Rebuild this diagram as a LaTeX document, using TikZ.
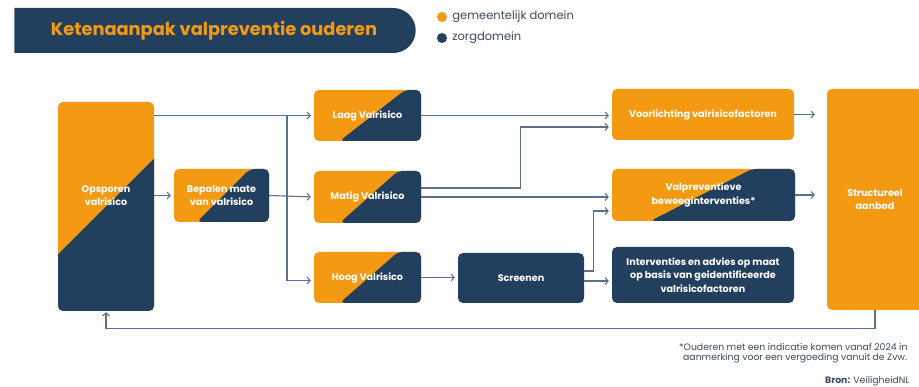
\documentclass[tikz,border=0pt]{standalone}
\usepackage{fontspec}
\setmainfont{Poppins}
\usetikzlibrary{calc, positioning, arrows.meta, shapes.misc}
\definecolor{vporange}{HTML}{F39A12}
\definecolor{vpnavy}{HTML}{22405E}
\definecolor{vpline}{HTML}{5B7189}
\definecolor{vptext}{HTML}{3B4A5C}
\tikzset{
  box/.style={rounded corners=5pt, text=white, inner sep=0pt, align=center,
    font=\fontsize{9.6}{13.5}\selectfont\bfseries},
  gem/.style={box, fill=vporange},
  zorg/.style={box, fill=vpnavy},
  split/.style 2 args={box, fill=vporange, path picture={
    \fill[vpnavy] ($(path picture bounding box.south west)!#1!(path picture bounding box.south east)$)
      -- ($(path picture bounding box.north west)!#2!(path picture bounding box.north east)$)
      -- ([xshift=300pt]$(path picture bounding box.north west)!#2!(path picture bounding box.north east)$)
      -- ([xshift=300pt]$(path picture bounding box.south west)!#1!(path picture bounding box.south east)$)
      -- cycle;}},
  arr/.style={draw=vpline, line width=1.1pt, -{Straight Barb[length=3pt,width=7pt]}, shorten >=3pt},
  legend/.style={text=vptext, font=\fontsize{11.5}{13}\selectfont, inner sep=0pt},
  note/.style={text=vptext, font=\fontsize{9.3}{10}\selectfont, inner sep=0pt, anchor=west},
}
\begin{document}
\begin{tikzpicture}[x=1pt, y=-1pt]
  \useasboundingbox[fill=white] (0,0) rectangle (919,387);
  % title and legend
  \node[rounded rectangle, rounded rectangle left arc=none, fill=vpnavy,
    minimum width=408pt, minimum height=45pt, text=vporange,
    font=\fontsize{17.8}{19}\selectfont\bfseries] (title) at (214,30.5) {Ketenaanpak valpreventie ouderen};
  \node[circle, fill=vporange, minimum size=10pt, inner sep=0pt] (dotgem) at (442,17) {};
  \node[legend, right=5pt of dotgem] {gemeentelijk domein};
  \node[circle, fill=vpnavy, minimum size=10pt, inner sep=0pt] (dotzorg) at (442,38) {};
  \node[legend, right=5pt of dotzorg] {zorgdomein};
  % boxes
  \node[split={-0.59}{1.59}, minimum width=96pt, minimum height=209pt,
    label={[box, yshift=11pt]center:Opsporen\\valrisico}] (ops) at (106,206.5) {};
  \node[split={0.24}{0.80}, minimum width=95pt, minimum height=53pt] (bep) at (221.5,195.5) {Bepalen mate\\van valrisico};
  \node[split={0.24}{0.85}, minimum width=107pt, minimum height=51pt] (laag) at (367.5,115.5) {Laag Valrisico};
  \node[split={0.24}{0.785}, minimum width=107pt, minimum height=52pt] (matig) at (367.5,197) {Matig Valrisico};
  \node[split={0.24}{0.785}, minimum width=107pt, minimum height=51pt] (hoog) at (367.5,277.5) {Hoog Valrisico};
  \node[zorg, minimum width=126pt, minimum height=50pt] (scr) at (521,278) {Screenen};
  \node[gem, minimum width=182pt, minimum height=51pt] (voor) at (703,114.5) {Voorlichting valrisicofactoren};
  \node[split={0.21}{0.765}, minimum width=183pt, minimum height=52pt] (valp) at (703.5,195) {Valpreventieve\\beweeginterventies*};
  \node[zorg, minimum width=182pt, minimum height=56pt] (intv) at (703,275) {Interventies en advies op maat\\op basis van geidentificeerde\\valrisicofactoren};
  \node[gem, minimum width=96pt, minimum height=221pt] (str) at (875,199.5) {Structureel\\aanbod};
  % connectors
  \draw[arr] (ops.east |- laag.west) -- (laag.west);
  \draw[arr] (ops.east |- bep.west) -- (bep.west);
  \draw[arr] (bep.east) -- (matig.west);
  \coordinate (fork) at (287,0);
  \draw[arr] (fork |- laag.west) |- ([yshift=-3pt]hoog.west);
  \draw[arr] (laag.east) -- (laag.east -| voor.west);
  \draw[arr] ([yshift=9pt]matig.east) -- ++(99,0) |- ([yshift=-12.5pt]voor.west);
  \draw[arr] (matig.east) -- (matig.east -| valp.west);
  \draw[arr] (hoog.east) -- (hoog.east -| scr.west);
  \draw[arr] ([yshift=7pt]scr.east) -- ++(9,0) |- ([yshift=-16pt]valp.west);
  \draw[arr] ([yshift=-3pt]scr.east) -- ([yshift=-3pt]scr.east -| intv.west);
  \draw[arr, shorten >=12pt] (voor.east) -- (voor.east -| str.west);
  \draw[arr, shorten >=12pt] (valp.east) -- (valp.east -| str.west);
  \draw[arr, shorten >=1pt] (str.south) -- ++(0,18) -| (ops.south);
  % footnote
  \node[note] (fn1) at (679,347) {*Ouderen met een indicatie komen vanaf 2024 in};
  \node[note] (fn2) at (683,358) {aanmerking voor een vergoeding vanuit de Zvw.};
  \node[note] (src) at (825,381.5) {\textbf{Bron:} VeiligheidNL};
\end{tikzpicture}
\end{document}
